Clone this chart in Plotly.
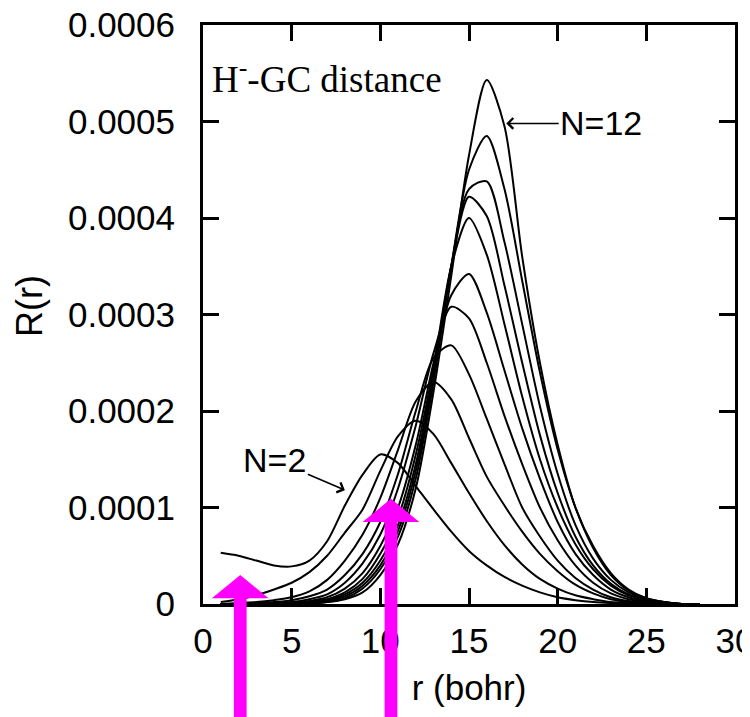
"""
Radial distribution R(r) of the H- - GC distance for N=2..12.
"""

import plotly.graph_objects as go

# r grid (bohr) shared by all curves
r_bohr = list(range(1, 29))

# R(r) in units of 1e-4, one list per N
n2 = [0.53, 0.50, 0.45, 0.40, 0.39, 0.45, 0.65, 1.02, 1.34, 1.55, 1.46, 1.22, 0.98, 0.75,
      0.55, 0.40, 0.28, 0.19, 0.12, 0.07, 0.04, 0.02, 0.01, 0.005, 0, 0, 0, 0]
n3 = [0.02, 0.05, 0.09, 0.15, 0.22, 0.33, 0.50, 0.74, 0.98, 1.38, 1.74, 1.90, 1.76, 1.46,
      1.15, 0.86, 0.61, 0.41, 0.26, 0.16, 0.09, 0.05, 0.02, 0.01, 0, 0, 0, 0]
n4 = [0, 0.01, 0.02, 0.04, 0.07, 0.13, 0.25, 0.45, 0.72, 1.10, 1.60, 2.10, 2.30, 2.12,
      1.72, 1.32, 1.02, 0.75, 0.52, 0.34, 0.20, 0.11, 0.05, 0.02, 0.01, 0, 0, 0]
n5 = [0, 0, 0.01, 0.02, 0.04, 0.08, 0.15, 0.30, 0.52, 0.85, 1.35, 2.00, 2.55, 2.68,
      2.38, 1.92, 1.45, 1.00, 0.70, 0.45, 0.27, 0.15, 0.07, 0.03, 0.01, 0, 0, 0]
n6 = [0, 0, 0, 0.01, 0.02, 0.05, 0.10, 0.22, 0.42, 0.72, 1.20, 1.85, 2.60, 3.08,
      2.96, 2.50, 1.95, 1.45, 1.00, 0.66, 0.40, 0.22, 0.11, 0.05, 0.02, 0, 0, 0]
n7 = [0, 0, 0, 0, 0.01, 0.03, 0.07, 0.16, 0.32, 0.60, 1.00, 1.65, 2.50, 3.20,
      3.42, 3.02, 2.42, 1.82, 1.30, 0.85, 0.52, 0.30, 0.15, 0.07, 0.03, 0.01, 0, 0]
n8 = [0, 0, 0, 0, 0.01, 0.02, 0.05, 0.12, 0.26, 0.52, 0.90, 1.55, 2.45, 3.50,
      4.00, 3.62, 2.90, 2.15, 1.50, 1.00, 0.62, 0.36, 0.19, 0.09, 0.04, 0.01, 0, 0]
n9 = [0, 0, 0, 0, 0, 0.01, 0.04, 0.10, 0.22, 0.45, 0.82, 1.45, 2.40, 3.50,
      4.22, 4.02, 3.30, 2.50, 1.75, 1.15, 0.70, 0.40, 0.21, 0.10, 0.04, 0.01, 0, 0]
n10 = [0, 0, 0, 0, 0, 0.01, 0.03, 0.08, 0.19, 0.40, 0.76, 1.38, 2.35, 3.50,
       4.30, 4.38, 3.75, 2.90, 2.05, 1.35, 0.82, 0.47, 0.25, 0.12, 0.05, 0.02, 0, 0]
n11 = [0, 0, 0, 0, 0, 0.01, 0.02, 0.06, 0.16, 0.36, 0.70, 1.30, 2.30, 3.50,
       4.50, 4.85, 4.30, 3.35, 2.40, 1.60, 1.00, 0.58, 0.30, 0.14, 0.06, 0.02, 0, 0]
n12 = [0, 0, 0, 0, 0, 0, 0.02, 0.05, 0.12, 0.30, 0.62, 1.20, 2.20, 3.40,
       4.65, 5.43, 4.95, 3.60, 2.50, 1.65, 1.00, 0.60, 0.32, 0.15, 0.06, 0.02, 0, 0]

curves = {2: n2, 3: n3, 4: n4, 5: n5, 6: n6, 7: n7, 8: n8, 9: n9, 10: n10, 11: n11, 12: n12}

x_ticks = [0, 5, 10, 15, 20, 25, 30]
y_ticks = [0, 0.0001, 0.0002, 0.0003, 0.0004, 0.0005, 0.0006]
y_ticktext = ["0", "0.0001", "0.0002", "0.0003", "0.0004", "0.0005", "0.0006"]

X_RANGE = [0, 30]
Y_RANGE = [0, 0.0006]

# magenta marker arrows: (x centre, tip y) in data units
marker_arrows = [(2.1, 0.000030), (10.6, 0.000109)]

FONT = "Liberation Sans, Arial, Helvetica, sans-serif"
MAGENTA = "#ff00ff"

fig = go.Figure()
for n, vals in curves.items():
    fig.add_trace(
        go.Scatter(
            x=r_bohr,
            y=[v * 1e-4 for v in vals],
            mode="lines",
            line=dict(color="black", width=2, shape="spline", smoothing=0.8),
            name=f"N={n}",
            showlegend=False,
        )
    )


def to_paper(xv, yv):
    # data -> paper fraction (domain is the whole plot area)
    return xv / X_RANGE[1], yv / Y_RANGE[1]


# magenta arrows drawn as shapes in paper coords (they stick out below the axis)
head_half = 1.6      # bohr
shaft_half = 0.36    # bohr
head_len = 0.000024
shaft_bottom = -0.000130
for xc, tip in marker_arrows:
    base = tip - head_len
    x0, yb = to_paper(xc - shaft_half, shaft_bottom)
    x1, yt = to_paper(xc + shaft_half, base + 0.000002)
    fig.add_shape(type="rect", xref="paper", yref="paper", x0=x0, x1=x1, y0=yb, y1=yt,
                  fillcolor=MAGENTA, line=dict(width=0), layer="above")
    hx0, hy = to_paper(xc - head_half, base)
    hx1, _ = to_paper(xc + head_half, base)
    tx, ty = to_paper(xc, tip)
    fig.add_shape(type="path", xref="paper", yref="paper",
                  path=f"M {hx0},{hy} L {hx1},{hy} L {tx},{ty} Z",
                  fillcolor=MAGENTA, line=dict(width=0), layer="above")

fig.add_annotation(
    text="H<sup>-</sup>-GC distance",
    xref="paper", yref="paper", x=0.013, y=0.955,
    xanchor="left", yanchor="top", showarrow=False,
    font=dict(family="Liberation Serif, Times New Roman, serif", size=37, color="black"),
)

fig.add_annotation(
    text="N=12", x=17.1, y=0.000498, ax=95, ay=0,
    showarrow=True, arrowhead=4, arrowsize=1.3, arrowwidth=1.6, arrowcolor="black",
    font=dict(family=FONT, size=34, color="black"),
)
fig.add_annotation(
    text="N=2", x=8.0, y=0.000118, ax=-70, ay=-30,
    showarrow=True, arrowhead=4, arrowsize=1.3, arrowwidth=1.6, arrowcolor="black",
    font=dict(family=FONT, size=34, color="black"),
)

fig.add_annotation(
    text="R(r)", xref="paper", yref="paper", x=-0.325, y=0.515,
    xanchor="center", yanchor="middle",
    textangle=-90, showarrow=False,
    font=dict(family=FONT, size=36, color="black"),
)

# the page body has an 8px default margin, so margins are trimmed by that amount
fig.update_layout(
    width=750,
    height=717,
    plot_bgcolor="white",
    paper_bgcolor="white",
    margin=dict(l=195, r=23, t=17, b=121),
    showlegend=False,
    xaxis=dict(
        range=X_RANGE,
        tickvals=x_ticks,
        ticks="inside", ticklen=16, tickwidth=2.5, tickcolor="black",
        showline=True, linecolor="black", linewidth=3, mirror="ticks",
        showgrid=False, zeroline=False, automargin=False,
        tickfont=dict(family=FONT, size=35, color="black"),
        ticklabelstandoff=4, ticklabeloverflow="allow",
        title=dict(text="r (bohr)", font=dict(family=FONT, size=35, color="black"), standoff=17),
    ),
    yaxis=dict(
        range=Y_RANGE,
        tickvals=y_ticks,
        ticktext=y_ticktext,
        ticks="inside", ticklen=16, tickwidth=2.5, tickcolor="black",
        showline=True, linecolor="black", linewidth=3, mirror="ticks",
        showgrid=False, zeroline=False, automargin=False,
        tickfont=dict(family=FONT, size=35, color="black"),
        ticklabelstandoff=18, ticklabeloverflow="allow",
    ),
)

fig.write_html("out.html")
